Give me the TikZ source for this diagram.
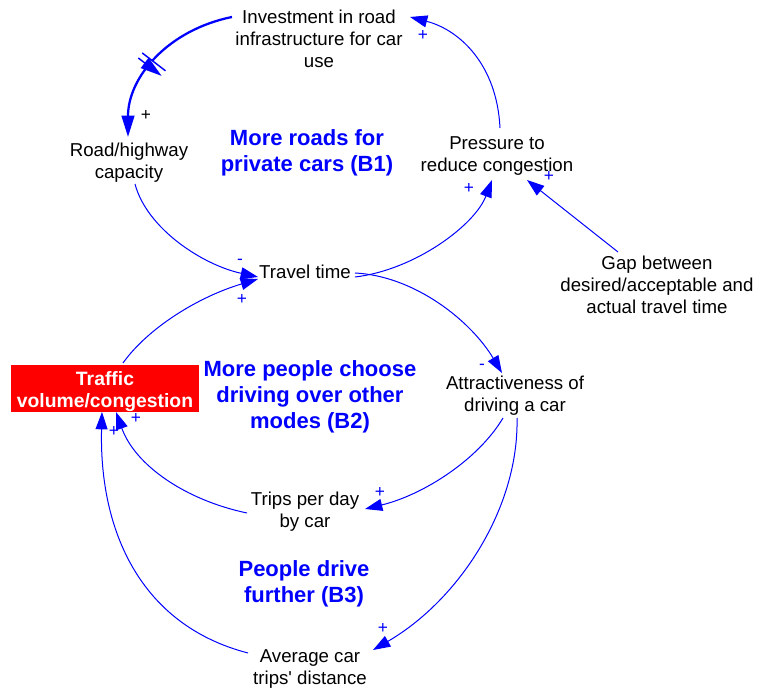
\documentclass[tikz,border=0pt]{standalone}
\usepackage{fontspec}
\setmainfont{Liberation Sans}[Ligatures=TeXOff]
\usetikzlibrary{arrows.meta,decorations.markings}
\definecolor{linkblue}{RGB}{0,0,255}
\definecolor{boxred}{RGB}{255,0,0}

\begin{document}
\begin{tikzpicture}[x=0.75pt,y=0.75pt,
  var/.style={align=center,font=\fontsize{14}{16.5}\selectfont,inner sep=0pt,text=black},
  loopname/.style={align=center,font=\fontsize{16.5}{19.5}\selectfont\bfseries,text=linkblue,inner sep=0pt},
  keyvar/.style={fill=boxred,text=white,align=center,font=\fontsize{14.5}{16.5}\selectfont\bfseries,
    minimum width=141pt,minimum height=33.75pt,inner sep=0pt},
  link/.style={draw=linkblue,line width=0.75pt,-{Triangle[length=13pt,width=9pt]}},
  delaylink/.style={draw=linkblue,line width=1.7pt,-{Triangle[length=16pt,width=9.5pt]},
    postaction={decorate},
    decoration={markings,mark=at position 0.55 with {
      \fill[white] (-2.4pt,-11pt) rectangle (2.4pt,11pt);
      \draw[linkblue,line width=1.1pt] (-2.4pt,-11pt) -- (-2.4pt,11pt)
                                      (2.4pt,-11pt) -- (2.4pt,11pt);}}},
  sign/.style={font=\fontsize{13}{15}\selectfont,text=linkblue,inner sep=0pt}]

\fill[white] (0,0) rectangle (758,-691);
\useasboundingbox (0,0) rectangle (758,-691);

% variables
\node[var] (inv)   at (319,-39)  {Investment in road\\infrastructure for car\\use};
\node[var] (cap)   at (129,-163) {Road/highway\\capacity};
\node[var] (pres)  at (497,-156) {Pressure to\\reduce congestion};
\node[var] (trav)  at (305,-272) {Travel time};
\node[var] (gap)   at (657,-285) {Gap between\\desired/acceptable and\\actual travel time};
\node[keyvar] (traf) at (105,-388.5) {\rule{0pt}{15pt}Traffic\\volume/congestion};
\node[var] (attr)  at (515,-396) {Attractiveness of\\driving a car};
\node[var] (trips) at (305,-512) {Trips per day\\by car};
\node[var] (avg)   at (310,-669) {Average car\\trips' distance};

% loop names
\node[loopname] (b1) at (307,-153) {More roads for\\private cars (B1)};
\node[loopname] (b2) at (310,-396.5) {More people choose\\driving over other\\modes (B2)};
\node[loopname] (b3) at (304,-584) {People drive\\further (B3)};

% causal links
\draw[delaylink] ([shift={(-87,22)}]inv.center) .. controls +(-64,-13) and +(0,60) .. ([shift={(-1,26)}]cap.center);
\draw[link] ([shift={(3,28)}]pres.center) .. controls +(-3,63) and +(50,-13) .. ([shift={(91,22)}]inv.center);
\draw[link] ([shift={(6,-21)}]cap.center) .. controls +(12,-45) and +(-55,12) .. ([shift={(-47,-5)}]trav.center);
\draw[link] ([shift={(18,25.5)}]traf.center) .. controls +(25,35) and +(-60,-18) .. ([shift={(-47,-7)}]trav.center);
\draw[link] ([shift={(50,-5)}]trav.center) .. controls +(60,7) and +(-17,-45) .. ([shift={(-5,-24)}]pres.center);
\draw[link] ([shift={(50,-1)}]trav.center) .. controls +(60,-3) and +(-31,52) .. ([shift={(-13,23)}]attr.center);
\draw[link] ([shift={(-39,33)}]gap.center) -- ([shift={(30,-24)}]pres.center);
\draw[link] ([shift={(-12,-22)}]attr.center) .. controls +(-25,-42) and +(58,14) .. ([shift={(60,3)}]trips.center);
\draw[link] ([shift={(-58,-1)}]trips.center) .. controls +(-62,13) and +(19,-53) .. ([shift={(11,-23.5)}]traf.center);
\draw[link] ([shift={(2,-22)}]attr.center) .. controls +(2,-90) and +(86,50) .. ([shift={(63,19)}]avg.center);
\draw[link] ([shift={(-62,16)}]avg.center) .. controls +(-108,28) and +(-3,-118) .. ([shift={(-3,-23.5)}]traf.center);

% polarities
\node[sign,text=black] (p1) at (146,-116) {+};
\node[sign] (p2)  at (423,-36)  {+};
\node[sign] (p3)  at (240,-262) {-};
\node[sign] (p4)  at (242,-300) {+};
\node[sign] (p5)  at (469,-189) {+};
\node[sign] (p6)  at (549,-177) {+};
\node[sign] (p7)  at (482,-367) {-};
\node[sign] (p8)  at (380,-493) {+};
\node[sign] (p9)  at (136,-419) {+};
\node[sign] (p10) at (114,-432) {+};
\node[sign] (p11) at (383,-628) {+};
\end{tikzpicture}
\end{document}
